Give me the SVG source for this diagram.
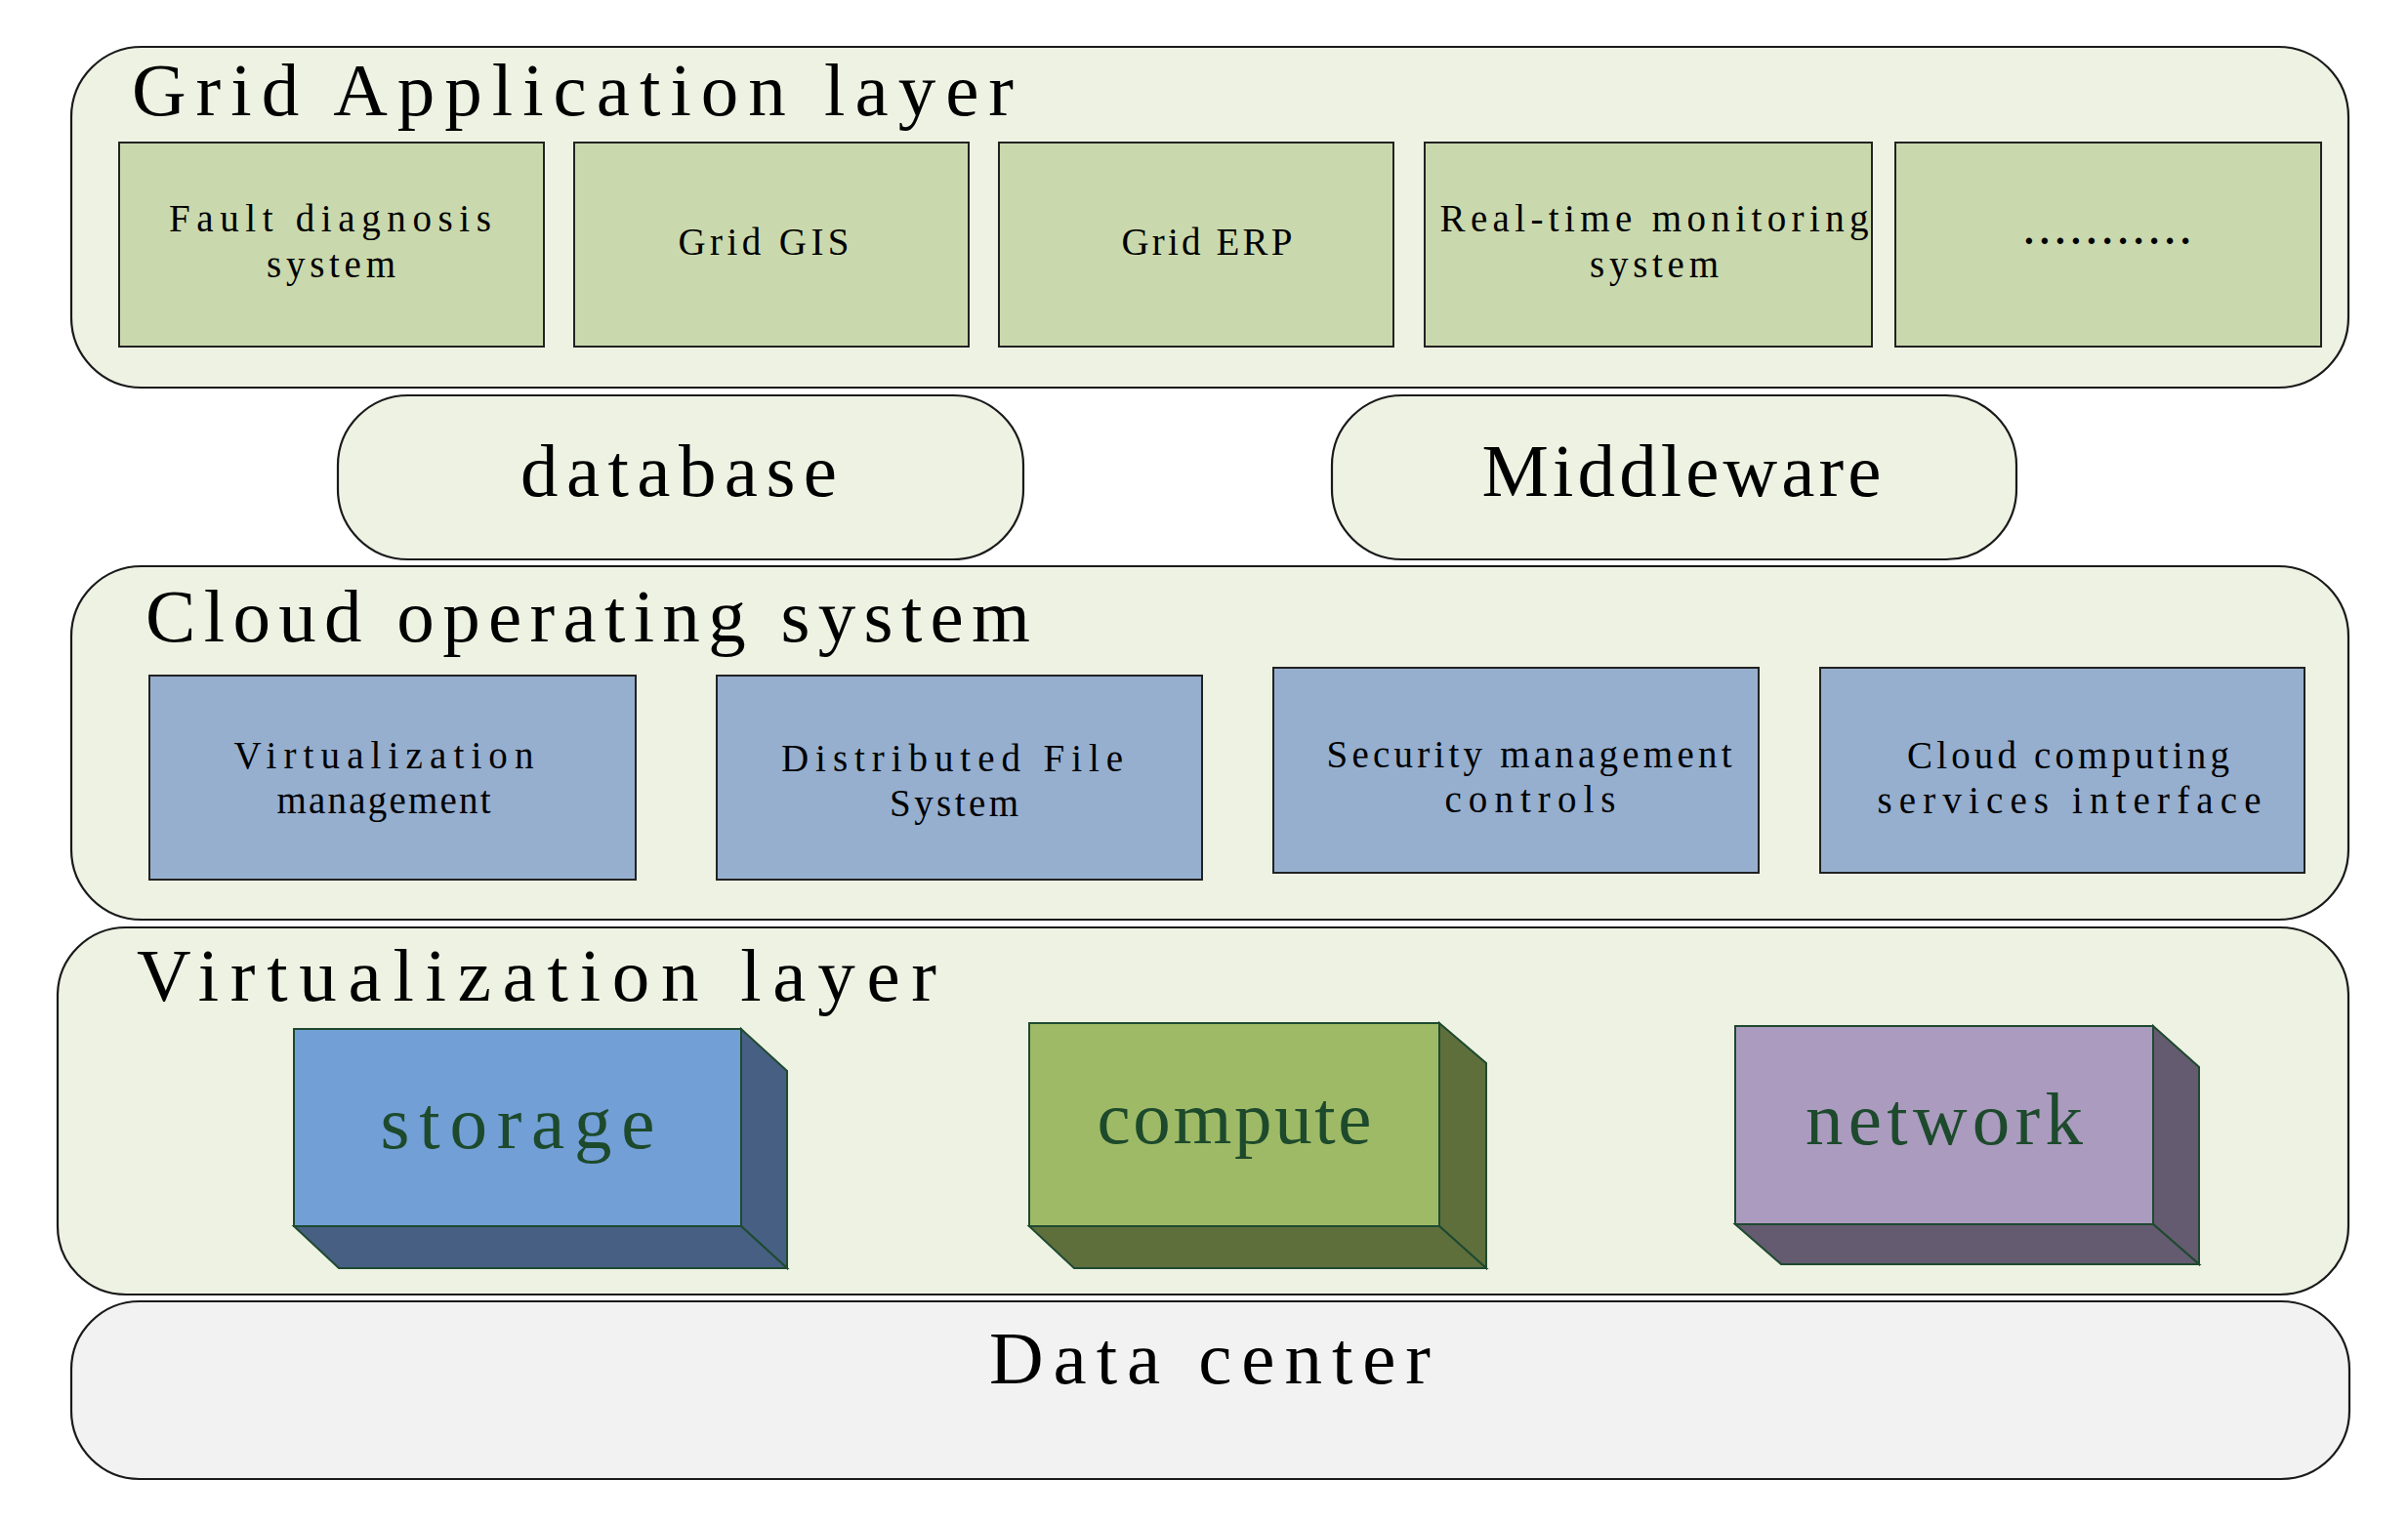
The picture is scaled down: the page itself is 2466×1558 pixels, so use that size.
<svg xmlns="http://www.w3.org/2000/svg" width="2466" height="1558" viewBox="0 0 2466 1558">
<style>
.layer{fill:#EEF2E3;stroke:#1a1a1a;stroke-width:2.2}
.dc{fill:#F2F2F2;stroke:#1a1a1a;stroke-width:2.2}
.app{fill:#CAD9AD;stroke:#222;stroke-width:2}
.blue{fill:#96AFCF;stroke:#222;stroke-width:2}
.cube{stroke:#1E4A30;stroke-width:2;stroke-linejoin:miter}
text{font-family:"Liberation Serif","DejaVu Serif",serif;fill:#000}
.big{font-size:77px}
.small{font-size:39px}
.cubet{font-size:77px;fill:#1D4A2C}
</style>
<rect width="2466" height="1558" fill="#ffffff"/>

<g id="grid-application-layer">
<rect class="layer" x="73" y="48" width="2332" height="349" rx="72" ry="72"/>
<text class="big" x="135" y="118" textLength="903" lengthAdjust="spacing">Grid Application layer</text>
</g>
<g id="fault-diagnosis">
<rect class="app" x="122" y="146" width="435" height="209"/>
<text class="small" x="338" y="237" text-anchor="middle" textLength="330" lengthAdjust="spacing">Fault diagnosis</text>
<text class="small" x="339" y="284" text-anchor="middle" textLength="132" lengthAdjust="spacing">system</text>
</g>
<g id="grid-gis">
<rect class="app" x="588" y="146" width="404" height="209"/>
<text class="small" x="782" y="261" text-anchor="middle" textLength="175" lengthAdjust="spacing">Grid GIS</text>
</g>
<g id="grid-erp">
<rect class="app" x="1023" y="146" width="404" height="209"/>
<text class="small" x="1236" y="261" text-anchor="middle" textLength="175" lengthAdjust="spacing">Grid ERP</text>
</g>
<g id="real-time-monitoring">
<rect class="app" x="1459" y="146" width="458" height="209"/>
<text class="small" x="1694" y="237" text-anchor="middle" textLength="439" lengthAdjust="spacing">Real-time monitoring</text>
<text class="small" x="1694" y="284" text-anchor="middle" textLength="132" lengthAdjust="spacing">system</text>
</g>
<g id="more-apps">
<rect class="app" x="1941" y="146" width="436" height="209"/>
<text class="small" x="2158" y="250" text-anchor="middle" font-weight="bold" textLength="170" lengthAdjust="spacing">...........</text>
</g>

<g id="database">
<rect class="layer" x="346" y="405" width="702" height="168" rx="72" ry="72"/>
<text class="big" x="695" y="508" text-anchor="middle" textLength="324" lengthAdjust="spacing">database</text>
</g>
<g id="middleware">
<rect class="layer" x="1364" y="405" width="701" height="168" rx="72" ry="72"/>
<text class="big" x="1722" y="508" text-anchor="middle" textLength="409" lengthAdjust="spacing">Middleware</text>
</g>

<g id="cloud-operating-system">
<rect class="layer" x="73" y="580" width="2332" height="362" rx="72" ry="72"/>
<text class="big" x="149" y="657" textLength="906" lengthAdjust="spacing">Cloud operating system</text>
</g>
<g id="virtualization-management">
<rect class="blue" x="153" y="692" width="498" height="209"/>
<text class="small" x="393" y="787" text-anchor="middle" textLength="307" lengthAdjust="spacing">Virtualization</text>
<text class="small" x="393" y="833" text-anchor="middle" textLength="219" lengthAdjust="spacing">management</text>
</g>
<g id="distributed-file-system">
<rect class="blue" x="734" y="692" width="497" height="209"/>
<text class="small" x="975" y="790" text-anchor="middle" textLength="350" lengthAdjust="spacing">Distributed File</text>
<text class="small" x="977" y="836" text-anchor="middle" textLength="132" lengthAdjust="spacing">System</text>
</g>
<g id="security-management">
<rect class="blue" x="1304" y="684" width="497" height="210"/>
<text class="small" x="1566" y="786" text-anchor="middle" textLength="415" lengthAdjust="spacing">Security management</text>
<text class="small" x="1567" y="832" text-anchor="middle" textLength="175" lengthAdjust="spacing">controls</text>
</g>
<g id="cloud-computing-interface">
<rect class="blue" x="1864" y="684" width="496" height="210"/>
<text class="small" x="2118" y="787" text-anchor="middle" textLength="330" lengthAdjust="spacing">Cloud computing</text>
<text class="small" x="2119" y="833" text-anchor="middle" textLength="393" lengthAdjust="spacing">services interface</text>
</g>

<g id="virtualization-layer">
<rect class="layer" x="59" y="950" width="2346" height="376" rx="70" ry="70"/>
<text class="big" x="140" y="1025" textLength="819" lengthAdjust="spacing">Virtualization layer</text>
</g>
<g id="storage">
<polygon class="cube" fill="#465F83" points="759,1054 806,1097 806,1299 759,1256"/>
<polygon class="cube" fill="#465F83" points="301,1256 759,1256 806,1299 347,1299"/>
<rect class="cube" fill="#729FD6" x="301" y="1054" width="458" height="202"/>
<text class="cubet" x="530" y="1176" text-anchor="middle" textLength="281" lengthAdjust="spacing">storage</text>
</g>
<g id="compute">
<polygon class="cube" fill="#5E6F3C" points="1474,1048 1522,1089 1522,1299 1474,1256"/>
<polygon class="cube" fill="#5E6F3C" points="1054,1256 1474,1256 1522,1299 1100,1299"/>
<rect class="cube" fill="#9FBA66" x="1054" y="1048" width="420" height="208"/>
<text class="cubet" x="1264" y="1171" text-anchor="middle" textLength="281" lengthAdjust="spacing">compute</text>
</g>
<g id="network">
<polygon class="cube" fill="#645B70" points="2205,1051 2252,1093 2252,1295 2205,1254"/>
<polygon class="cube" fill="#645B70" points="1777,1254 2205,1254 2252,1295 1824,1295"/>
<rect class="cube" fill="#AB9BBF" x="1777" y="1051" width="428" height="203"/>
<text class="cubet" x="1991" y="1172" text-anchor="middle" textLength="284" lengthAdjust="spacing">network</text>
</g>

<g id="data-center">
<rect class="dc" x="73" y="1333" width="2333" height="182" rx="70" ry="70"/>
<text class="big" x="1239" y="1417" text-anchor="middle" textLength="452" lengthAdjust="spacing">Data center</text>
</g>

<g id="connectors"></g>
</svg>
